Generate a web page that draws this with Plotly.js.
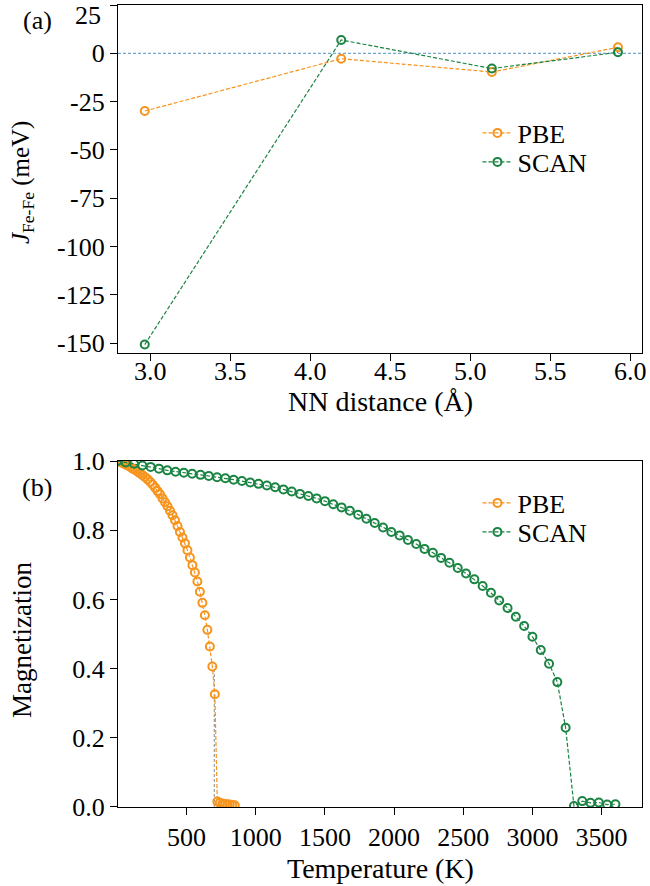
<!DOCTYPE html>
<html>
<head>
<meta charset="utf-8">
<script src="https://cdn.plot.ly/plotly-3.0.1.min.js"></script>
<style>html,body{margin:0;padding:0;background:#fff;}</style>
</head>
<body>
<div id="chart" style="width:650px;height:886px;"></div>
<script>
// ---- Panel (a): exchange coupling vs NN distance ----
const nnDistance = [2.967, 4.193, 5.133, 5.92];
const jPBE  = [-29.9, -2.8, -9.7, 3.1];
const jSCAN = [-150.8, 6.9, -7.9, 0.5];
const jTickVals = [-150, -125, -100, -75, -50, -25, 0, 25];
const jTickText = ['-150', '-125', '-100', '-75', '-50', '-25', '0', ''];
const dTickVals = [3.0, 3.5, 4.0, 4.5, 5.0, 5.5, 6.0];
const dTickText = ['3.0', '3.5', '4.0', '4.5', '5.0', '5.5', '6.0'];

// ---- Panel (b): magnetization vs temperature ----
const tempPBE = [2, 20, 38, 56, 74, 92, 110, 128, 146, 164, 182, 200, 218, 236, 254, 272, 290, 308, 326, 344,
  362, 380, 398, 416, 434, 452, 470, 488, 506, 524, 542, 560, 578, 596, 614, 632, 650, 668, 686, 704,
  722, 740, 758, 776, 794, 812, 830, 848];
const magPBE = [1.000, 0.997, 0.994, 0.990, 0.987, 0.983, 0.978, 0.974, 0.969, 0.964, 0.959, 0.953, 0.947, 0.940, 0.932, 0.923, 0.913, 0.904, 0.892, 0.881,
  0.869, 0.856, 0.843, 0.829, 0.812, 0.795, 0.779, 0.762, 0.742, 0.721, 0.699, 0.678, 0.652, 0.622, 0.590, 0.554, 0.512, 0.464, 0.406, 0.326,
  0.016, 0.012, 0.010, 0.009, 0.008, 0.007, 0.006, 0.005];
const tempSCAN = [0, 60, 120, 180, 240, 300, 360, 420, 480, 540, 600, 660, 720, 780, 840, 900, 960, 1020, 1080, 1140,
  1200, 1260, 1320, 1380, 1440, 1500, 1560, 1620, 1680, 1740, 1800, 1860, 1920, 1980, 2040, 2100, 2160, 2220, 2280, 2340,
  2400, 2460, 2520, 2580, 2640, 2700, 2760, 2820, 2880, 2940, 3000, 3060, 3120, 3180, 3240, 3300, 3360, 3420, 3480, 3540, 3600];
const magSCAN = [1.000, 0.996, 0.992, 0.987, 0.983, 0.978, 0.973, 0.969, 0.966, 0.963, 0.960, 0.957, 0.953, 0.950, 0.946, 0.942, 0.938, 0.934, 0.929, 0.924,
  0.918, 0.912, 0.905, 0.899, 0.892, 0.884, 0.875, 0.866, 0.856, 0.845, 0.833, 0.821, 0.808, 0.795, 0.785, 0.772, 0.760, 0.746, 0.735, 0.720,
  0.706, 0.691, 0.675, 0.658, 0.639, 0.619, 0.597, 0.575, 0.550, 0.523, 0.492, 0.454, 0.414, 0.361, 0.229, 0.003, 0.017, 0.012, 0.013, 0.007, 0.008];
const tTickVals = [500, 1000, 1500, 2000, 2500, 3000, 3500];
const mTickVals = [0, 0.2, 0.4, 0.6, 0.8, 1.0];
const pbeTc = 700;
const pbeTcMag = 0.406;

const ORANGE = '#f7941d';
const GREEN = '#1a8442';
const FONT = 'Liberation Serif';

function series(x, y, name, color, xa, ya, leg) {
  return {
    x: x, y: y, name: name, xaxis: xa, yaxis: ya, legend: leg,
    type: 'scatter', mode: 'lines+markers',
    line: {color: color, width: 1.2, dash: '4px,2px'},
    marker: {symbol: 'circle-open', size: 8, color: color, line: {color: color, width: 2}}
  };
}

const traces = [
  series(nnDistance, jPBE, 'PBE', ORANGE, 'x', 'y', 'legend'),
  series(nnDistance, jSCAN, 'SCAN', GREEN, 'x', 'y', 'legend2'),
  series(tempPBE, magPBE, 'PBE', ORANGE, 'x2', 'y2', 'legend3'),
  series(tempSCAN, magSCAN, 'SCAN', GREEN, 'x2', 'y2', 'legend4')
];

const axisCommon = {
  showline: true, mirror: true, linecolor: 'black', linewidth: 1.3,
  ticks: 'outside', ticklen: 7, tickwidth: 1.2, tickcolor: 'black',
  showgrid: false, zeroline: false,
  tickfont: {family: FONT, size: 26, color: 'black'}
};

function legendAt(py) {
  return {
    x: 0.686, y: (807 - py) / 802, xanchor: 'left', yanchor: 'middle',
    bgcolor: 'rgba(0,0,0,0)', borderwidth: 0,
    font: {family: FONT, size: 26, color: 'black'}
  };
}

const annotations = [
  {text: '(a)', xref: 'paper', yref: 'paper', x: (37 - 118) / 524, y: (807 - 21) / 802,
   xanchor: 'center', yanchor: 'middle', showarrow: false, font: {family: FONT, size: 26}},
  {text: '(b)', xref: 'paper', yref: 'paper', x: (37 - 118) / 524, y: (807 - 487) / 802,
   xanchor: 'center', yanchor: 'middle', showarrow: false, font: {family: FONT, size: 26}},
  {text: '25', xref: 'paper', yref: 'paper', x: (103 - 118) / 524, y: (807 - 16) / 802,
   xanchor: 'right', yanchor: 'middle', showarrow: false, font: {family: FONT, size: 26}},
  {text: '<i>J</i><sub>Fe-Fe</sub> (meV)', xref: 'paper', yref: 'paper', x: (22 - 118) / 524, y: (807 - 183) / 802,
   xanchor: 'center', yanchor: 'middle', textangle: -90, showarrow: false, font: {family: FONT, size: 25}},
  {text: 'Magnetization', xref: 'paper', yref: 'paper', x: (22 - 118) / 524, y: (807 - 640) / 802,
   xanchor: 'center', yanchor: 'middle', textangle: -90, showarrow: false, font: {family: FONT, size: 27}},
  {text: 'NN distance (Å)', xref: 'paper', yref: 'paper', x: 0.5, y: (807 - 401) / 802,
   xanchor: 'center', yanchor: 'middle', showarrow: false, font: {family: FONT, size: 28}},
  {text: 'Temperature (K)', xref: 'paper', yref: 'paper', x: 0.5, y: (807 - 868) / 802,
   xanchor: 'center', yanchor: 'middle', showarrow: false, font: {family: FONT, size: 28}}
];
// top-panel x tick labels, set tight under the axis as in the reference
dTickVals.forEach(function (v, i) {
  annotations.push({text: dTickText[i], xref: 'x', yref: 'paper', x: v, y: (807 - 356) / 802,
    xanchor: 'center', yanchor: 'top', showarrow: false, borderpad: 0,
    font: {family: FONT, size: 26, color: 'black'}});
});

const layout = {
  width: 650, height: 886,
  margin: {l: 118, r: 8, t: 5, b: 79},
  paper_bgcolor: 'white', plot_bgcolor: 'white',
  font: {family: FONT, size: 26, color: 'black'},
  showlegend: true,
  xaxis: Object.assign({}, axisCommon, {
    anchor: 'y', domain: [0, 1], range: [2.80, 6.07],
    tickmode: 'array', tickvals: dTickVals, showticklabels: false
  }),
  yaxis: Object.assign({}, axisCommon, {
    anchor: 'x', domain: [0.566, 1], range: [-155.2, 25],
    tickmode: 'array', tickvals: jTickVals, ticktext: jTickText
  }),
  xaxis2: Object.assign({}, axisCommon, {
    anchor: 'y2', domain: [0, 1], range: [4, 3792],
    tickmode: 'array', tickvals: tTickVals
  }),
  yaxis2: Object.assign({}, axisCommon, {
    anchor: 'x2', domain: [0, 0.4314], range: [0, 1],
    tickmode: 'array', tickvals: mTickVals, tickformat: '.1f'
  }),
  legend: legendAt(133),
  legend2: legendAt(162),
  legend3: legendAt(503),
  legend4: legendAt(532),
  shapes: [
    {type: 'line', xref: 'paper', x0: 0, x1: 1, yref: 'y', y0: 0, y1: 0, layer: 'below',
     line: {color: '#1f77b4', width: 0.8, dash: '3px,2px'}},
    {type: 'line', xref: 'x2', x0: pbeTc, x1: pbeTc, yref: 'y2', y0: 0, y1: pbeTcMag, layer: 'below',
     line: {color: '#888888', width: 1, dash: '3px,2px'}}
  ],
  annotations: annotations
};

Plotly.newPlot('chart', traces, layout, {displayModeBar: false, responsive: false});
</script>
</body>
</html>
